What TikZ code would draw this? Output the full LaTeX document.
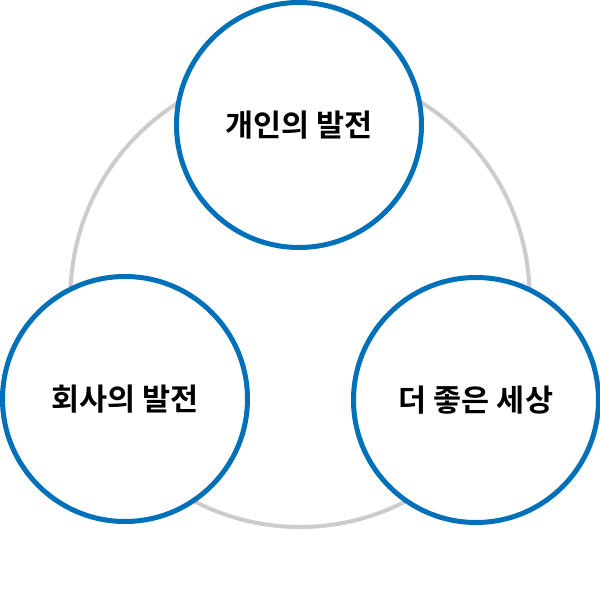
\documentclass[tikz,border=0pt]{standalone}
\usepackage{fontspec}
\newfontfamily\kr{Noto Sans CJK KR}[BoldFont={Noto Sans CJK KR Bold}]
\definecolor{ringgray}{RGB}{204,204,204}
\definecolor{goalblue}{RGB}{0,112,184}
\tikzset{
  goal/.style={circle, draw=goalblue, line width=5, fill=white,
    minimum size=245, inner sep=0, font=\kr\bfseries\fontsize{30.5}{36}\selectfont}
}

\begin{document}
\begin{tikzpicture}[x=1pt,y=1pt]
  \useasboundingbox (0,0) rectangle (600,600);
  \draw[ringgray, line width=4] (300,302.6) circle (229.6);   % ring behind
  \foreach \n/\x/\y/\t in {person/299/475/{개인의 발전},
                           company/125/201/{회사의 발전},
                           world/476/200/{더 좋은 세상}} {
    \node[goal] (\n) at (\x,\y) {\t};
  }
\end{tikzpicture}
\end{document}
